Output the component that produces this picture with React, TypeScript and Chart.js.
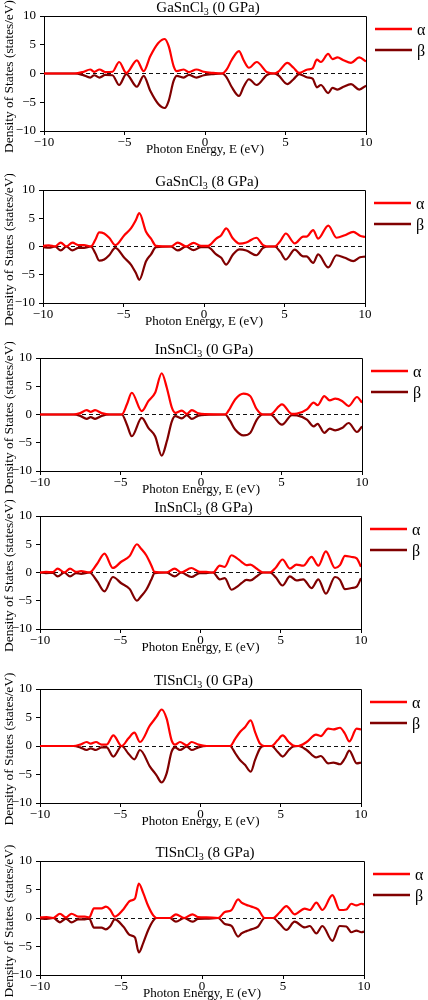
import React, { useEffect, useRef } from "react";
import { Chart, registerables } from "chart.js";

Chart.register(...registerables);

const FONT = '"Liberation Serif", "Times New Roman", Times, serif';
const ALPHA_COLOR = "#ff0000";
const BETA_COLOR = "#800000";

const xTickValues = [-10, -5, 0, 5, 10];
const yTickValues = [-10, -5, 0, 5, 10];
const xAxisTitle = "Photon Energy, E (eV)";
const yAxisTitle = "Density of States (states/eV)";
const seriesNames = ["α", "β"];

// Titles: [base, subscript, suffix]
const panelTitles = [
  ["GaSnCl", "3", " (0 GPa)"],
  ["GaSnCl", "3", " (8 GPa)"],
  ["InSnCl", "3", " (0 GPa)"],
  ["InSnCl", "3", " (8 GPa)"],
  ["TlSnCl", "3", " (0 GPa)"],
  ["TlSnCl", "3", " (8 GPa)"],
];

// ---- GaSnCl3 (0 GPa)
const gaSn0Energy = [-10, -8.1, -7.6, -7.13, -6.88, -6.55, -6.2, -5.75, -5.33, -4.89, -4.23, -3.81, -3.4, -2.9, -2.5, -2.25, -1.95, -1.75, -1.32, -1.0, -0.53, -0.07, 0.5, 1.07, 1.35, 1.65, 2.11, 2.4, 2.73, 3.21, 3.87, 4.29, 4.55, 5.12, 5.5, 5.85, 6.37, 6.68, 6.95, 7.2, 7.65, 7.92, 8.23, 8.6, 9.07, 9.58, 10];
const gaSn0Alpha = [0, 0, 0.25, 0.7, 0.3, 0.7, 0.25, 0.3, 2.0, 0.1, 2.3, 0.4, 3.0, 5.3, 6.0, 4.7, 1.3, 0.4, 0.7, 0.25, 0.7, 0.3, 0.1, 0, 0.7, 2.3, 3.9, 2.3, 1.0, 2.0, 0.2, 0, 0.3, 1.85, 1.0, 0.1, 0.7, 0.9, 2.4, 2.0, 3.4, 2.5, 2.8, 2.3, 1.85, 2.8, 2.1];
const gaSn0Beta = [0, 0, -0.25, -0.7, -0.3, -0.7, -0.25, -0.3, -2.0, -0.1, -2.3, -0.4, -3.0, -5.3, -6.0, -4.7, -1.3, -0.4, -0.7, -0.25, -0.7, -0.3, -0.1, 0, -0.7, -2.3, -3.9, -2.3, -1.0, -2.0, -0.2, 0, -0.3, -1.85, -1.0, -0.1, -0.7, -0.9, -2.4, -2.0, -3.4, -2.5, -2.8, -2.3, -1.85, -2.8, -2.1];

// ---- GaSnCl3 (8 GPa)
const gaSn8Energy = [-10, -9.63, -9.25, -8.9, -8.55, -8.17, -7.8, -7.45, -7.03, -6.75, -6.51, -6.2, -5.89, -5.51, -4.95, -4.54, -4.23, -4.02, -3.6, -3.29, -2.98, -2.05, -1.63, -1.11, -0.65, -0.18, 0.24, 0.76, 1.07, 1.38, 1.8, 2.21, 2.63, 3.25, 3.67, 4.08, 4.39, 4.75, 5.08, 5.64, 6.16, 6.37, 6.78, 7.09, 7.72, 8.23, 8.75, 9.27, 9.69, 10];
const gaSn8Alpha = [0.1, 0.2, 0, 0.7, 0, 0.7, 0.25, 0.25, 0, 1.2, 2.5, 2.3, 1.55, 0.25, 2.0, 3.2, 4.7, 5.9, 2.6, 1.4, 0.1, 0, 0.7, 0, 0.65, 0.1, 0.1, 1.4, 2.0, 3.2, 1.4, 0.5, 0.7, 1.55, 0.25, 0, 0, 1.0, 2.3, 0.55, 1.75, 1.75, 2.9, 1.4, 3.7, 1.55, 2.0, 2.6, 1.9, 1.7];
const gaSn8Beta = [-0.1, -0.2, 0, -0.7, 0, -0.7, -0.25, -0.25, 0, -1.2, -2.5, -2.3, -1.55, -0.25, -2.0, -3.2, -4.7, -5.9, -2.6, -1.4, -0.1, 0, -0.7, 0, -0.65, -0.1, -0.1, -1.4, -2.0, -3.2, -1.4, -0.5, -0.7, -1.55, -0.25, 0, 0, -1.0, -2.3, -0.55, -1.75, -1.75, -2.9, -1.4, -3.7, -1.55, -2.0, -2.6, -1.9, -1.8];

// ---- InSnCl3 (0 GPa)
const inSn0Energy = [-10, -7.93, -7.5, -7.1, -6.85, -6.58, -6.17, -5.65, -4.92, -4.6, -4.3, -3.68, -3.26, -2.85, -2.44, -2.12, -1.81, -1.6, -1.19, -0.88, -0.57, -0.16, 0.26, 1.5, 1.8, 2.12, 2.64, 3.06, 3.47, 3.84, 4.3, 5.03, 5.65, 5.96, 6.58, 7.0, 7.24, 7.66, 7.99, 8.34, 8.76, 9.17, 9.69, 10];
const inSn0Alpha = [0, 0, 0.25, 0.77, 0.47, 0.77, 0.25, 0, 0, 1.8, 3.85, 0.6, 2.4, 3.85, 7.3, 4.7, 1.2, 0.3, 0.7, 0.1, 0.77, 0.2, 0.05, 0, 1.1, 2.66, 3.7, 3.25, 0.9, 0, 0, 1.8, 0.1, 0.15, 0.9, 2.1, 1.65, 3.25, 2.5, 2.8, 2.4, 1.5, 3.1, 2.1];
const inSn0Beta = [0, 0, -0.25, -0.77, -0.47, -0.77, -0.25, 0, 0, -1.8, -3.85, -0.6, -2.4, -3.85, -7.3, -4.7, -1.2, -0.3, -0.7, -0.1, -0.77, -0.2, -0.05, 0, -1.1, -2.66, -3.7, -3.25, -0.9, 0, 0, -1.8, -0.1, -0.15, -0.9, -2.1, -1.65, -3.25, -2.5, -2.8, -2.4, -1.5, -3.1, -2.1];

// ---- InSnCl3 (8 GPa)
const inSn8Energy = [-10, -9.63, -9.21, -8.9, -8.48, -8.13, -7.75, -7.44, -6.92, -6.45, -5.98, -5.46, -4.94, -4.42, -3.96, -3.7, -3.38, -3.07, -2.86, -2.13, -1.61, -1.2, -0.57, -0.05, 0.36, 0.78, 1.2, 1.51, 1.93, 2.24, 2.55, 2.86, 3.11, 3.49, 3.9, 4.32, 4.7, 5.11, 5.57, 5.98, 6.4, 6.92, 7.34, 7.81, 8.38, 8.69, 9.0, 9.42, 9.73, 10];
const inSn8Alpha = [0, 0.1, 0.05, 0.7, 0, 0.7, 0.1, 0.25, 0, 1.5, 3.35, 0.8, 1.9, 2.9, 5.0, 4.2, 3.05, 1.3, 0.1, 0, 0.7, 0, 0.8, 0.1, 0.1, 0, 1.2, 1.0, 3.05, 2.6, 1.9, 1.3, 1.4, 0.7, 0, 0, 0.9, 2.3, 0.7, 1.4, 1.2, 2.75, 1.2, 3.75, 0.8, 1.3, 2.95, 2.75, 2.5, 1.0];
const inSn8Beta = [0, -0.1, -0.05, -0.7, 0, -0.7, -0.1, -0.25, 0, -1.5, -3.35, -0.8, -1.9, -2.9, -5.0, -4.2, -3.05, -1.3, -0.1, 0, -0.7, 0, -0.8, -0.1, -0.1, 0, -1.2, -1.0, -3.05, -2.6, -1.9, -1.3, -1.4, -0.7, 0, 0, -0.9, -2.3, -0.7, -1.4, -1.2, -2.75, -1.2, -3.75, -0.8, -1.3, -2.95, -2.75, -2.5, -1.0];

// ---- TlSnCl3 (0 GPa)
const tlSn0Energy = [-10, -7.92, -7.5, -7.09, -6.84, -6.51, -6.16, -5.85, -5.43, -4.91, -4.5, -4.12, -3.77, -3.15, -2.75, -2.42, -2.11, -1.8, -1.59, -1.28, -0.86, -0.55, -0.13, 0.38, 1.84, 2.15, 2.46, 2.77, 3.13, 3.4, 3.71, 3.96, 4.43, 4.8, 5.12, 5.5, 5.78, 6.1, 6.61, 7.2, 7.49, 7.96, 8.28, 8.69, 9.0, 9.27, 9.73, 10];
const tlSn0Alpha = [0, 0, 0.25, 0.7, 0.4, 0.7, 0.25, 0.25, 1.85, 0, 1.3, 2.35, 0.7, 3.6, 5.1, 6.4, 4.8, 1.0, 0.25, 0.7, 0.1, 0.7, 0.25, 0, 0, 1.2, 2.45, 3.3, 4.5, 2.45, 0.4, 0, 0, 1.0, 1.85, 0.7, 0.1, 0, 0.7, 2.0, 1.75, 3.05, 2.9, 3.2, 2.15, 0.8, 3.05, 2.9];
const tlSn0Beta = [0, 0, -0.25, -0.7, -0.4, -0.7, -0.25, -0.25, -1.85, 0, -1.3, -2.35, -0.7, -3.6, -5.1, -6.4, -4.8, -1.0, -0.25, -0.7, -0.1, -0.7, -0.25, 0, 0, -1.2, -2.45, -3.3, -4.5, -2.45, -0.4, 0, 0, -1.0, -1.85, -0.7, -0.1, 0, -0.7, -2.0, -1.75, -3.05, -2.9, -3.2, -2.15, -0.8, -3.05, -2.9];

// ---- TlSnCl3 (8 GPa)
const tlSn8Energy = [-10, -9.59, -9.18, -8.77, -8.4, -8.05, -7.64, -7.23, -6.96, -6.67, -6.2, -5.93, -5.68, -5.38, -4.86, -4.45, -4.14, -3.9, -3.63, -3.32, -3.01, -2.81, -1.98, -1.61, -1.1, -0.59, -0.24, 0.28, 1.0, 1.41, 1.82, 2.23, 2.44, 2.74, 3.05, 3.46, 3.87, 4.39, 4.8, 5.21, 5.72, 6.34, 6.65, 7.06, 7.43, 8.05, 8.5, 8.91, 9.22, 9.53, 9.84, 10];
const tlSn8Alpha = [0.1, 0.15, 0, 0.75, 0.1, 0.75, 0.25, 0.25, 0.1, 1.7, 1.7, 2.0, 1.5, 0.25, 1.5, 3.0, 3.4, 6.05, 4.4, 2.1, 0.45, 0, 0, 0.65, 0, 0.65, 0.15, 0.1, 0, 1.05, 1.4, 3.25, 2.7, 2.3, 2.0, 1.5, 0, 0, 1.0, 2.1, 0.65, 1.65, 1.4, 2.7, 1.4, 4.0, 1.4, 1.5, 2.5, 2.2, 2.5, 2.4];
const tlSn8Beta = [-0.1, -0.15, 0, -0.75, -0.1, -0.75, -0.25, -0.25, -0.1, -1.7, -1.7, -2.0, -1.5, -0.25, -1.5, -3.0, -3.4, -6.05, -4.4, -2.1, -0.45, 0, 0, -0.65, 0, -0.65, -0.15, -0.1, 0, -1.05, -1.4, -3.25, -2.7, -2.3, -2.0, -1.5, 0, 0, -1.0, -2.1, -0.65, -1.65, -1.4, -2.7, -1.4, -4.0, -1.4, -1.5, -2.5, -2.2, -2.5, -2.4];

const panelEnergies = [gaSn0Energy, gaSn8Energy, inSn0Energy, inSn8Energy, tlSn0Energy, tlSn8Energy];
const panelAlphas = [gaSn0Alpha, gaSn8Alpha, inSn0Alpha, inSn8Alpha, tlSn0Alpha, tlSn8Alpha];
const panelBetas = [gaSn0Beta, gaSn8Beta, inSn0Beta, inSn8Beta, tlSn0Beta, tlSn8Beta];

// Layout (plot-area boxes in page pixels): left, top, right, bottom
const panelBoxes = [
  [44, 16, 366, 131],
  [43, 190, 365, 303],
  [40, 358, 362, 471],
  [40, 516, 361, 629],
  [40, 689, 361, 803],
  [40, 861, 364, 975],
];

const PAD_TOP = 16;
const PAD_BOTTOM = 28;

const fmt = (v: number) => (v < 0 ? "\u2212" + Math.abs(v) : String(v));
const align = (p: number) => Math.round(p - 0.5) + 0.5;

function DosPanel({ index }: { index: number }) {
  const ref = useRef<HTMLCanvasElement>(null);
  const [L, T, R, B] = panelBoxes[index];
  const H = B - T + PAD_TOP + PAD_BOTTOM;

  useEffect(() => {
    const canvas = ref.current;
    if (!canvas) return;
    const energy = panelEnergies[index];
    const toPts = (vals: number[]) => energy.map((x, i) => ({ x, y: vals[i] }));
    const title = panelTitles[index];

    const decor = {
      id: "decor",
      beforeDatasetsDraw(chart: any) {
        const { ctx, chartArea: a, scales } = chart;
        const y0 = align(scales.y.getPixelForValue(0));
        ctx.save();
        ctx.strokeStyle = "#111";
        ctx.lineWidth = 1;
        ctx.setLineDash([4, 3]);
        ctx.beginPath();
        ctx.moveTo(a.left, y0);
        ctx.lineTo(a.right, y0);
        ctx.stroke();
        ctx.restore();
      },
      afterDraw(chart: any) {
        const { ctx, chartArea: a } = chart;
        ctx.save();
        // top and right frame
        ctx.strokeStyle = "#000";
        ctx.lineWidth = 1;
        ctx.beginPath();
        ctx.moveTo(align(a.left), align(a.top));
        ctx.lineTo(align(a.right), align(a.top));
        ctx.lineTo(align(a.right), align(a.bottom));
        ctx.stroke();

        ctx.fillStyle = "#000";
        // title with subscript
        const cx = (a.left + a.right) / 2 + 3;
        ctx.font = `15px ${FONT}`;
        const w1 = ctx.measureText(title[0]).width;
        const w3 = ctx.measureText(title[2]).width;
        ctx.font = `10px ${FONT}`;
        const w2 = ctx.measureText(title[1]).width;
        let x = cx - (w1 + w2 + w3) / 2;
        const base = a.top - 4;
        ctx.textAlign = "left";
        ctx.textBaseline = "alphabetic";
        ctx.font = `15px ${FONT}`;
        ctx.fillText(title[0], x, base);
        x += w1;
        ctx.font = `10px ${FONT}`;
        ctx.fillText(title[1], x, base + 3);
        x += w2;
        ctx.font = `15px ${FONT}`;
        ctx.fillText(title[2], x, base);

        // x-axis title
        ctx.font = `13px ${FONT}`;
        ctx.textAlign = "center";
        ctx.fillText(xAxisTitle, (a.left + a.right) / 2, a.bottom + 22);

        // y-axis title
        ctx.save();
        ctx.translate(9, (a.top + a.bottom) / 2 + 3);
        ctx.rotate(-Math.PI / 2);
        ctx.font = `13.4px ${FONT}`;
        ctx.textAlign = "center";
        ctx.textBaseline = "middle";
        ctx.fillText(yAxisTitle, 0, 0);
        ctx.restore();

        // legend
        const colors = [ALPHA_COLOR, BETA_COLOR];
        const offs = [13, 34];
        ctx.lineWidth = 2.5;
        ctx.font = `16px ${FONT}`;
        ctx.textAlign = "left";
        ctx.textBaseline = "alphabetic";
        for (let i = 0; i < 2; i++) {
          const ly = a.top + offs[i];
          ctx.strokeStyle = colors[i];
          ctx.beginPath();
          ctx.moveTo(a.right + 9, ly);
          ctx.lineTo(a.right + 46, ly);
          ctx.stroke();
          ctx.fillStyle = "#000";
          ctx.fillText(seriesNames[i], a.right + 51, ly + 5.5);
        }
        ctx.restore();
      },
    };

    const tickFont = { family: FONT, size: 13 };
    const chart = new Chart(canvas, {
      type: "line",
      data: {
        datasets: [
          {
            label: seriesNames[0],
            data: toPts(panelAlphas[index]),
            borderColor: ALPHA_COLOR,
            backgroundColor: ALPHA_COLOR,
            borderWidth: 2.2,
            pointRadius: 0,
            cubicInterpolationMode: "monotone",
            fill: false,
          },
          {
            label: seriesNames[1],
            data: toPts(panelBetas[index]),
            borderColor: BETA_COLOR,
            backgroundColor: BETA_COLOR,
            borderWidth: 2.2,
            pointRadius: 0,
            cubicInterpolationMode: "monotone",
            fill: false,
          },
        ],
      },
      options: {
        responsive: false,
        animation: false,
        devicePixelRatio: 1,
        layout: { padding: { top: PAD_TOP, right: 428 - R, left: 0, bottom: 0 } },
        plugins: {
          legend: { display: false },
          tooltip: { enabled: false },
          title: { display: false },
        },
        scales: {
          x: {
            type: "linear",
            min: -10,
            max: 10,
            afterFit: (s: any) => {
              s.height = PAD_BOTTOM;
            },
            afterBuildTicks: (s: any) => {
              s.ticks = xTickValues.map((v) => ({ value: v }));
            },
            ticks: {
              callback: (v: any) => fmt(Number(v)),
              font: tickFont,
              color: "#000",
              padding: 0,
              maxRotation: 0,
              autoSkip: false,
            },
            grid: { drawOnChartArea: false, drawTicks: true, tickLength: 4, color: "#000" },
            border: { display: true, color: "#000", width: 1 },
          },
          y: {
            type: "linear",
            min: -10,
            max: 10,
            afterFit: (s: any) => {
              s.width = L;
            },
            afterBuildTicks: (s: any) => {
              s.ticks = yTickValues.map((v) => ({ value: v }));
            },
            ticks: {
              callback: (v: any) => fmt(Number(v)),
              font: tickFont,
              color: "#000",
              padding: 4,
              autoSkip: false,
            },
            grid: { drawOnChartArea: false, drawTicks: true, tickLength: 4, color: "#000" },
            border: { display: true, color: "#000", width: 1 },
          },
        },
      } as any,
      plugins: [decor],
    });
    return () => chart.destroy();
  }, [index]);

  return (
    <canvas
      ref={ref}
      width={428}
      height={H}
      style={{ position: "absolute", left: 0, top: T - PAD_TOP, width: 428, height: H, display: "block" }}
    />
  );
}

export default function App() {
  return (
    <div style={{ position: "absolute", left: 0, top: 0, width: 428, height: 1000, background: "#fff", overflow: "hidden" }}>
      {panelBoxes.map((_, i) => (
        <DosPanel key={i} index={i} />
      ))}
    </div>
  );
}
